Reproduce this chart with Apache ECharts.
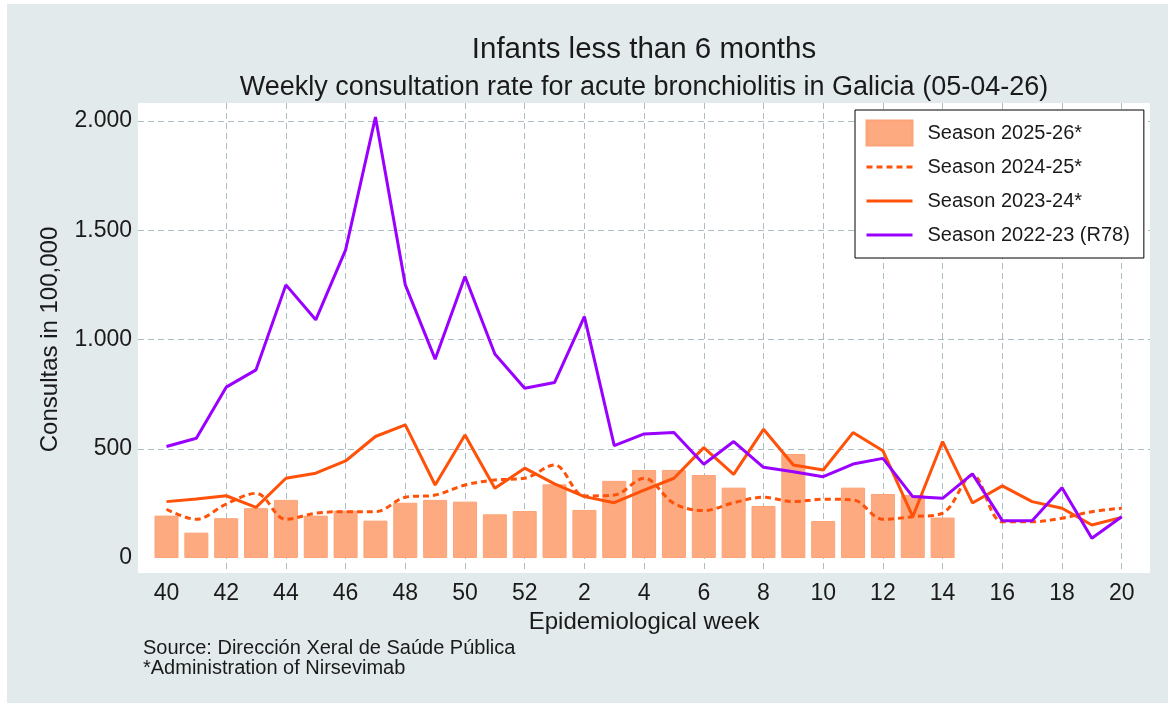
<!DOCTYPE html>
<html>
<head>
<meta charset="utf-8">
<script src="https://cdn.jsdelivr.net/npm/echarts@6/dist/echarts.min.js"></script>
<style>
  html, body { margin: 0; padding: 0; background: #fff; }
  #panel { position: absolute; left: 7px; top: 4px; width: 1161px; height: 699px; background: #e3eaec; }
  #chart { position: absolute; left: 0; top: 0; width: 1168px; height: 704px; }
</style>
</head>
<body>
<div id="panel"></div>
<div id="chart"></div>
<script>
// epidemiological weeks, season runs from week 40 to week 20
const weeks = ['40', '41', '42', '43', '44', '45', '46', '47', '48', '49', '50', '51', '52',
  '1', '2', '3', '4', '5', '6', '7', '8', '9', '10', '11', '12', '13', '14', '15', '16', '17', '18', '19', '20']

const season2526 = [194, 116, 182, 228, 266, 194, 217, 171, 253, 266, 258, 200, 215,
  337, 220, 353, 403, 403, 380, 322, 238, 476, 169, 322, 293, 288, 185, null, null, null, null, null, null]

const season2425 = [223, 177, 247, 296, 177, 205, 212, 212, 278, 288, 334, 357, 365,
  426, 284, 288, 365, 250, 217, 253, 278, 258, 269, 266, 177, 189, 205, 380, 166, 166, 182, 212, 228]

const season2324 = [258, 270, 285, 232, 365, 388, 444, 556, 609, 334, 563, 319, 411,
  339, 281, 253, 311, 365, 505, 383, 589, 426, 403, 574, 491, 189, 533, 252, 330, 258, 228, 151, 186]

const season2223 = [510, 548, 782, 861, 1250, 1090, 1410, 2018, 1250, 910, 1288, 934, 777,
  803, 1105, 514, 568, 574, 429, 533, 415, 395, 372, 430, 456, 281, 273, 385, 171, 171, 322, 90, 189]

const yTicks = { min: 0, max: 2000, interval: 500 }

const FONT = "'Liberation Sans', Arial, sans-serif"
const TEXT = '#1a1a1a'
const GRIDLINE = { color: '#a9bdc2', width: 1, type: [6, 4] }
const ORANGE = '#ff5108'
const PURPLE = '#9a00ff'

const chart = echarts.init(document.getElementById('chart'))

const dotFormat = (v) => String(v).replace(/\B(?=(\d{3})+(?!\d))/g, '.')

const hiddenValue = (gridIndex) => ({ type: 'value', gridIndex: gridIndex, show: false })

// line entries in the legend: just the stroke, no marker
const lineEntry = (name) => ({ name: name, itemStyle: { opacity: 0 }, lineStyle: { width: 3 } })

const options = {
  animation: false,
  textStyle: { fontFamily: FONT },
  title: [
    {
      text: 'Infants less than 6 months',
      left: 644,
      top: 35,
      padding: 0,
      textAlign: 'center',
      textStyle: { fontFamily: FONT, fontSize: 29.5, fontWeight: 'normal', color: TEXT }
    },
    {
      text: 'Weekly consultation rate for acute bronchiolitis in Galicia (05-04-26)',
      left: 644,
      top: 74,
      padding: 0,
      textAlign: 'center',
      textStyle: { fontFamily: FONT, fontSize: 27, fontWeight: 'normal', color: TEXT }
    },
    {
      text: 'Source: Dirección Xeral de Saúde Pública\n*Administration of Nirsevimab',
      left: 143,
      top: 638,
      padding: 0,
      textStyle: { fontFamily: FONT, fontSize: 20, fontWeight: 'normal', color: TEXT, lineHeight: 20 }
    }
  ],
  legend: {
    left: 855,
    top: 110,
    orient: 'vertical',
    backgroundColor: '#fff',
    borderColor: '#000',
    borderWidth: 1,
    padding: [6, 14, 6, 10],
    itemWidth: 46,
    itemHeight: 25,
    itemGap: 0,
    textStyle: { fontFamily: FONT, fontSize: 20, color: TEXT, lineHeight: 34, padding: [0, 0, 0, 10] },
    data: [
      { name: 'Season 2025-26*', icon: 'rect' },
      lineEntry('Season 2024-25*'),
      lineEntry('Season 2023-24*'),
      lineEntry('Season 2022-23 (R78)')
    ]
  },
  grid: [
    // white plot area
    { left: 138, top: 103, width: 1012, height: 470, show: true, backgroundColor: '#fff', borderWidth: 0, z: -1 },
    // horizontal gridlines + y labels
    { left: 138, top: 121, width: 1012, height: 437 },
    // vertical gridlines + x labels
    { left: 166.5, top: 103, width: 955.2, height: 470 },
    // data
    { left: 166.5, top: 121, width: 955.2, height: 437 }
  ],
  xAxis: [
    hiddenValue(0),
    hiddenValue(1),
    {
      type: 'category',
      gridIndex: 2,
      data: weeks,
      boundaryGap: false,
      axisLine: { show: false },
      axisTick: { show: false },
      axisLabel: { interval: 1, fontFamily: FONT, fontSize: 23, color: TEXT, margin: 9 },
      splitLine: { show: true, interval: 1, showMinLine: false, lineStyle: GRIDLINE },
      name: 'Epidemiological week',
      nameLocation: 'middle',
      nameGap: 30,
      nameTextStyle: { fontFamily: FONT, fontSize: 24, color: TEXT }
    },
    {
      type: 'category',
      gridIndex: 3,
      data: weeks,
      boundaryGap: false,
      show: false
    }
  ],
  yAxis: [
    hiddenValue(0),
    {
      type: 'value',
      gridIndex: 1,
      min: yTicks.min,
      max: yTicks.max,
      interval: yTicks.interval,
      axisLine: { show: false },
      axisTick: { show: false },
      axisLabel: { fontFamily: FONT, fontSize: 23, color: TEXT, margin: 6, formatter: dotFormat },
      splitLine: { show: true, showMinLine: false, lineStyle: GRIDLINE },
      name: 'Consultas in 100,000',
      nameLocation: 'middle',
      nameGap: 76,
      nameTextStyle: { fontFamily: FONT, fontSize: 24, color: TEXT }
    },
    hiddenValue(2),
    {
      type: 'value',
      gridIndex: 3,
      min: yTicks.min,
      max: yTicks.max,
      show: false
    }
  ],
  series: [
    {
      name: 'Season 2025-26*',
      type: 'bar',
      xAxisIndex: 3,
      yAxisIndex: 3,
      data: season2526,
      barWidth: 24,
      clip: false,
      itemStyle: { color: '#fdaa80', borderColor: '#fca377', borderWidth: 1 }
    },
    {
      name: 'Season 2024-25*',
      type: 'line',
      xAxisIndex: 3,
      yAxisIndex: 3,
      data: season2425,
      symbol: 'none',
      smooth: 0.35,
      clip: false,
      lineStyle: { color: ORANGE, width: 3, type: [6, 4] },
      itemStyle: { color: ORANGE }
    },
    {
      name: 'Season 2023-24*',
      type: 'line',
      xAxisIndex: 3,
      yAxisIndex: 3,
      data: season2324,
      symbol: 'none',
      clip: false,
      lineStyle: { color: ORANGE, width: 3 },
      itemStyle: { color: ORANGE }
    },
    {
      name: 'Season 2022-23 (R78)',
      type: 'line',
      xAxisIndex: 3,
      yAxisIndex: 3,
      data: season2223,
      symbol: 'none',
      clip: false,
      lineStyle: { color: PURPLE, width: 3 },
      itemStyle: { color: PURPLE }
    }
  ]
}

chart.setOption(options)
</script>
</body>
</html>
